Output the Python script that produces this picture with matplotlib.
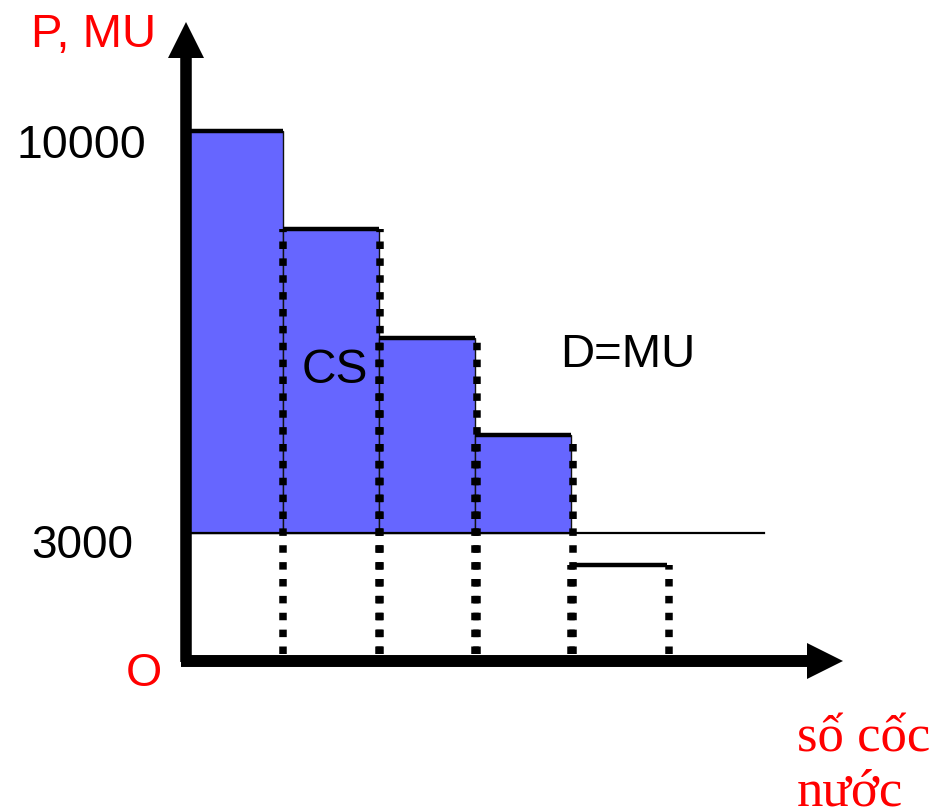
import numpy as np
import matplotlib
matplotlib.use("Agg")
import matplotlib.pyplot as plt

# ---- data (schematic consumer-surplus chart) ----
cups = [1, 2, 3, 4, 5]                       # số cốc nước
mu = [10000, 8300, 6400, 4700, 2250]         # marginal utility per cup (D = MU)
price = 3000                                 # market price
ytick_vals = [3000, 10000]
ytick_labels = ["3000", "10000"]

W, H, DPI = 937, 809, 100
fig = plt.figure(figsize=(W / DPI, H / DPI), dpi=DPI)
ax = fig.add_axes([0, 0, 1, 1])
ax.set_axis_off()

# schematic (piecewise-linear) price axis
def fwd(v):
    v = np.asarray(v, float)
    return np.where(v < 3000, v * 128 / 3000, 128 + (v - 3000) * 402 / 7000)

def inv(h):
    h = np.asarray(h, float)
    return np.where(h < 128, h * 3000 / 128, 3000 + (h - 128) * 7000 / 402)

ax.set_yscale("function", functions=(fwd, inv))
ox, unit = 186.5, 96.2
ax.set_xlim(-ox / unit, (W - ox) / unit)
ax.set_ylim(float(inv(-(H - 661))), float(inv(661)))

n_cs = 4
xs = np.array(cups[:n_cs]) - 0.5
# consumer surplus area
ax.bar(xs, np.array(mu[:n_cs]) - price, bottom=price, width=1.0,
       color="#6666ff", edgecolor="#111111", linewidth=1.0, zorder=2)

# price line
ax.plot([0, 6], [price, price], color="black", lw=1.6, zorder=3)

# dotted sides of the steps 2..5 (drawn from the axis upwards)
bottom = float(inv(7))
for i in range(1, len(cups)):
    for k, xv in enumerate((cups[i] - 1, cups[i])):
        off = 0.015 if k == 1 else 0.0
        ax.plot([xv + off, xv + off], [bottom, mu[i]], color="black", lw=5.4,
                linestyle=(0, (1.0, 1.25)), solid_capstyle="butt",
                dash_capstyle="butt", zorder=4)

# thick step tops
for i, c in enumerate(cups):
    ax.plot([c - 1, c], [mu[i], mu[i]], color="black", lw=3.2,
            solid_capstyle="butt", zorder=5)

# axes with arrows
ax.plot([0, 0], [inv(-1), inv(604)], color="black", lw=8.3,
        solid_capstyle="butt", zorder=6)
ax.plot([-0.06, (807 - ox) / unit], [0, 0], color="black", lw=8.6,
        solid_capstyle="butt", zorder=6)
ax.plot([0], [inv(621.5)], marker="^", markersize=26, color="black",
        markeredgewidth=0, zorder=7)
ax.plot([(825 - ox) / unit], [0], marker=">", markersize=26, color="black",
        markeredgewidth=0, zorder=7)

# texts
sans = ["Liberation Sans", "DejaVu Sans"]
serif = ["Liberation Serif", "DejaVu Serif"]

def ptext(x, y, s, size, color="black", family=sans):
    fig.text(x / W, 1 - y / H, s, fontsize=size, color=color,
             family=family, ha="left", va="baseline")

ptext(31, 47, "P, MU", 34, "red")
ptext(16, 158, ytick_labels[1], 33.5)
ptext(31, 558, ytick_labels[0], 33)
ptext(126, 686, "O", 33.5, "red")
ptext(302, 383, "CS", 34.5)
ptext(560, 367, "D=MU", 34)
ptext(797, 752, "số cốc", 38, "red", serif)
ptext(797, 805, "nước", 38, "red", serif)

fig.savefig("out.png", dpi=DPI)
